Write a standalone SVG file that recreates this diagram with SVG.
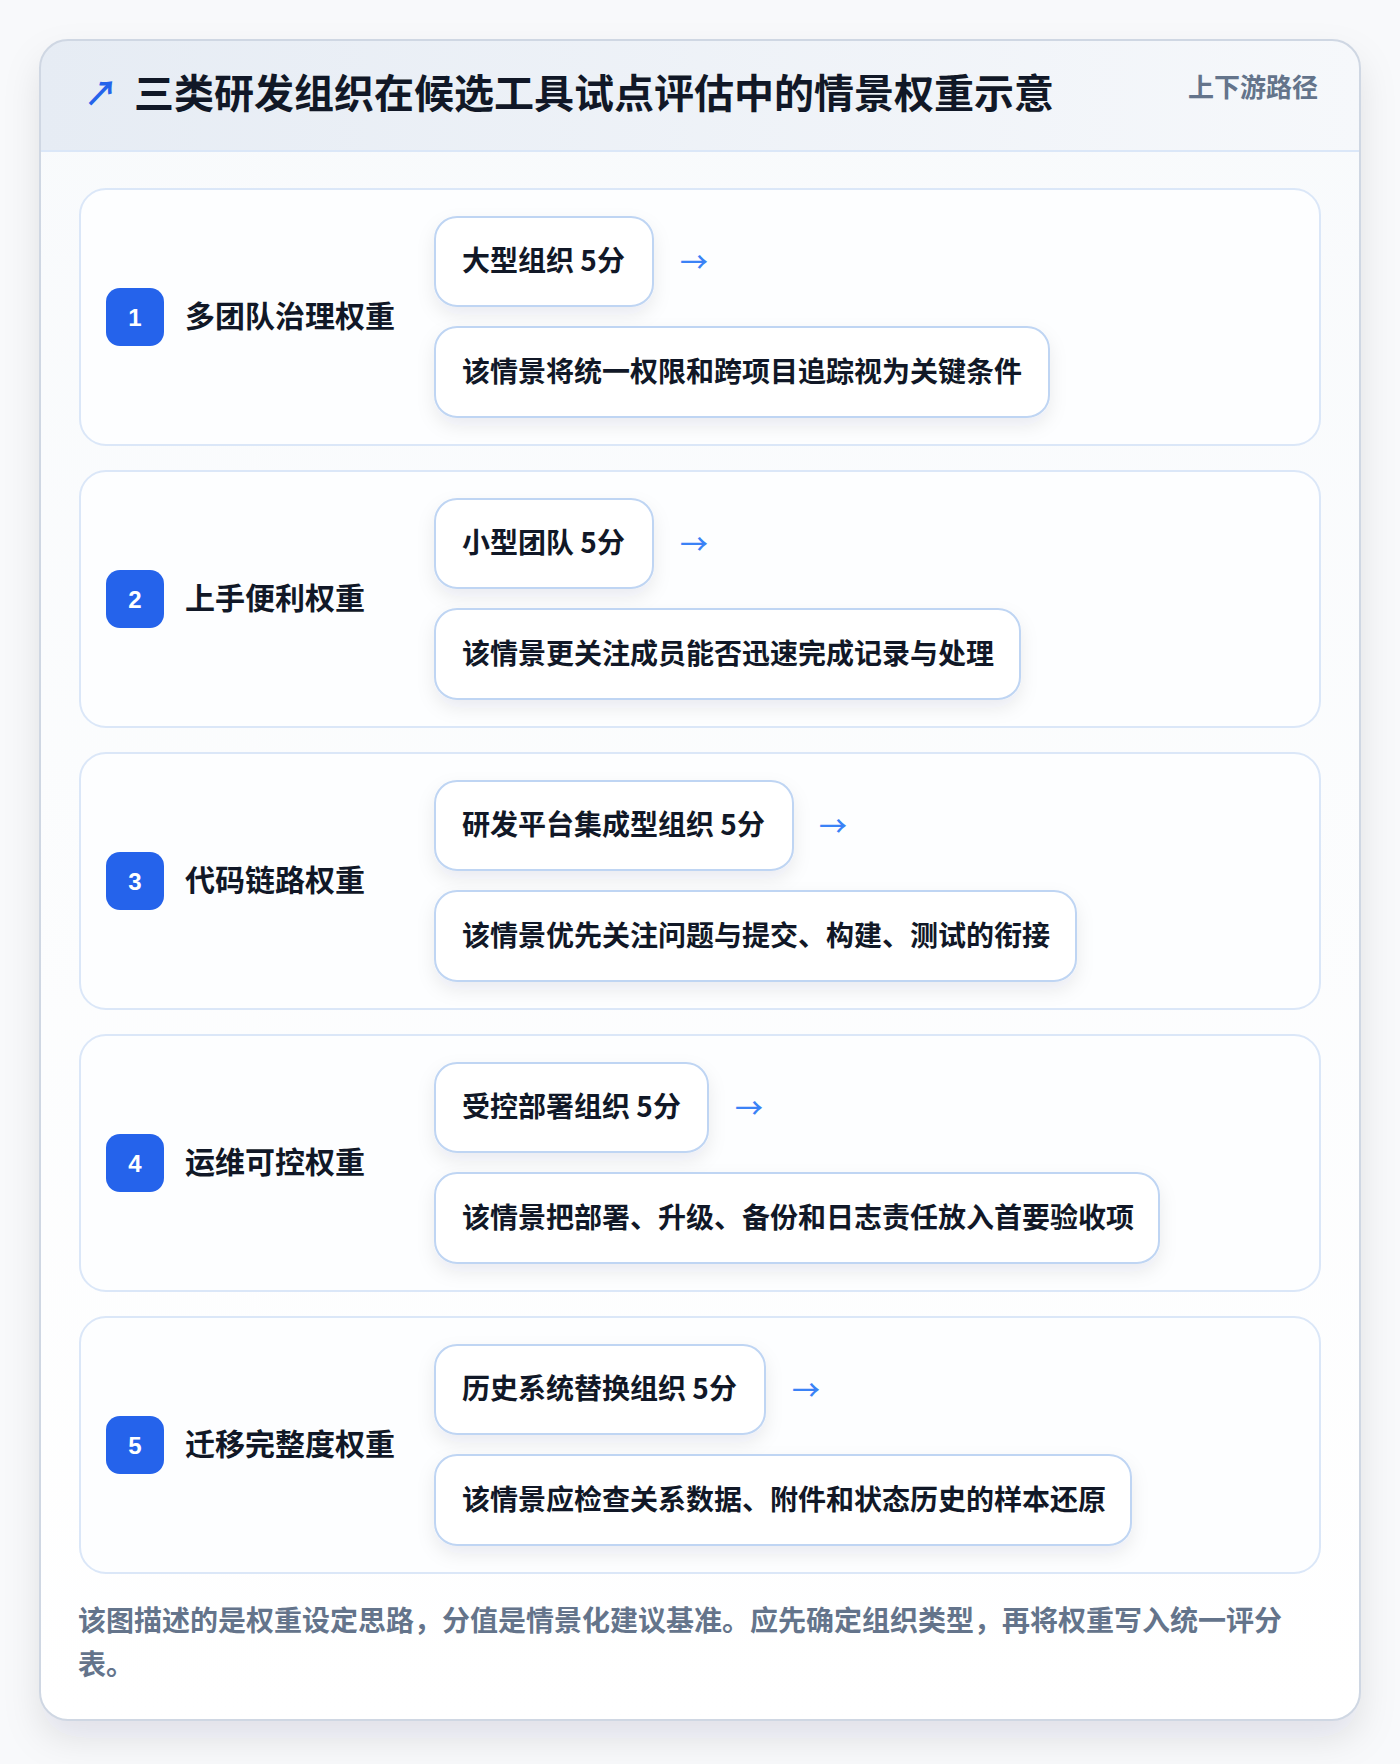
<svg xmlns="http://www.w3.org/2000/svg" width="1400" height="1764" viewBox="0 0 1400 1764">
<defs>
<linearGradient id="hdr" x1="0" y1="0" x2="1" y2="0">
<stop offset="0" stop-color="#e6ecf4"/>
<stop offset="1" stop-color="#f6f8fb"/>
</linearGradient>
<linearGradient id="body" x1="0" y1="0" x2="0" y2="1">
<stop offset="0" stop-color="#f8fafc"/>
<stop offset="1" stop-color="#ffffff"/>
</linearGradient>
<filter id="cardShadow" x="-10%" y="-10%" width="120%" height="120%">
<feDropShadow dx="0" dy="18" stdDeviation="18" flood-color="#0f172a" flood-opacity="0.10"/>
</filter>
<filter id="pillShadow" x="-10%" y="-30%" width="120%" height="170%">
<feDropShadow dx="0" dy="8" stdDeviation="9" flood-color="#1e293b" flood-opacity="0.08"/>
</filter>
<clipPath id="cardClip"><rect x="40" y="40" width="1320" height="1680" rx="28"/></clipPath>
</defs>
<style>
text{font-family:"Noto Sans CJK SC","Noto Sans",sans-serif;}
.title{font-size:40px;font-weight:700;fill:#111827;}
.sub{font-size:26px;font-weight:600;fill:#64748b;}
.row{fill:#fdfeff;stroke:#dbe7f8;stroke-width:2;}
.badge{fill:#2563eb;}
.num{font-family:"Liberation Sans","Noto Sans",sans-serif;font-size:24px;font-weight:700;fill:#ffffff;text-anchor:middle;}
.lbl{font-size:30px;font-weight:700;fill:#111827;}
.pill{fill:#ffffff;stroke:#bfd5f3;stroke-width:2;filter:url(#pillShadow);}
.ptxt{font-size:28px;font-weight:700;fill:#111827;}
.arr{font-size:28px;font-weight:500;fill:#3b82f6;}
.foot{font-size:28px;font-weight:600;fill:#64748b;}
</style>
<rect x="0" y="0" width="1400" height="1764" fill="#f8f9fb"/>
<g id="card">
<rect x="40" y="40" width="1320" height="1680" rx="28" fill="url(#body)" filter="url(#cardShadow)"/>
<g clip-path="url(#cardClip)">
<rect x="40" y="40" width="1320" height="111" fill="url(#hdr)"/>
<line x1="40" y1="151" x2="1360" y2="151" stroke="#dbe7f8" stroke-width="2"/>
</g>
<rect x="40" y="40" width="1320" height="1680" rx="28" fill="none" stroke="#cfd7e3" stroke-width="2"/>
</g>
<g id="header">
<text x="84" y="106" font-size="34" font-weight="700" fill="#2563eb">↗</text>
<text class="title" x="134" y="108">三类研发组织在候选工具试点评估中的情景权重示意</text>
<text class="sub" x="1318" y="97" text-anchor="end">上下游路径</text>
</g>
<g id="row1">
<rect class="row" x="80" y="189" width="1240" height="256" rx="26"/>
<rect class="badge" x="106" y="288" width="58" height="58" rx="14"/>
<text class="num" x="135" y="326">1</text>
<text class="lbl" x="185" y="327">多团队治理权重</text>
<rect class="pill" x="435" y="217" width="218" height="89" rx="22"/>
<text class="ptxt" x="462" y="271">大型组织 5分</text>
<text class="arr" x="680" y="273">→</text>
<rect class="pill" x="435" y="327" width="614" height="90" rx="22"/>
<text class="ptxt" x="462" y="382">该情景将统一权限和跨项目追踪视为关键条件</text>
</g>
<g id="row2">
<rect class="row" x="80" y="471" width="1240" height="256" rx="26"/>
<rect class="badge" x="106" y="570" width="58" height="58" rx="14"/>
<text class="num" x="135" y="608">2</text>
<text class="lbl" x="185" y="609">上手便利权重</text>
<rect class="pill" x="435" y="499" width="218" height="89" rx="22"/>
<text class="ptxt" x="462" y="553">小型团队 5分</text>
<text class="arr" x="680" y="555">→</text>
<rect class="pill" x="435" y="609" width="585" height="90" rx="22"/>
<text class="ptxt" x="462" y="664">该情景更关注成员能否迅速完成记录与处理</text>
</g>
<g id="row3">
<rect class="row" x="80" y="753" width="1240" height="256" rx="26"/>
<rect class="badge" x="106" y="852" width="58" height="58" rx="14"/>
<text class="num" x="135" y="890">3</text>
<text class="lbl" x="185" y="891">代码链路权重</text>
<rect class="pill" x="435" y="781" width="358" height="89" rx="22"/>
<text class="ptxt" x="462" y="835">研发平台集成型组织 5分</text>
<text class="arr" x="819" y="837">→</text>
<rect class="pill" x="435" y="891" width="641" height="90" rx="22"/>
<text class="ptxt" x="462" y="946">该情景优先关注问题与提交、构建、测试的衔接</text>
</g>
<g id="row4">
<rect class="row" x="80" y="1035" width="1240" height="256" rx="26"/>
<rect class="badge" x="106" y="1134" width="58" height="58" rx="14"/>
<text class="num" x="135" y="1172">4</text>
<text class="lbl" x="185" y="1173">运维可控权重</text>
<rect class="pill" x="435" y="1063" width="273" height="89" rx="22"/>
<text class="ptxt" x="462" y="1117">受控部署组织 5分</text>
<text class="arr" x="735" y="1119">→</text>
<rect class="pill" x="435" y="1173" width="724" height="90" rx="22"/>
<text class="ptxt" x="462" y="1228">该情景把部署、升级、备份和日志责任放入首要验收项</text>
</g>
<g id="row5">
<rect class="row" x="80" y="1317" width="1240" height="256" rx="26"/>
<rect class="badge" x="106" y="1416" width="58" height="58" rx="14"/>
<text class="num" x="135" y="1454">5</text>
<text class="lbl" x="185" y="1455">迁移完整度权重</text>
<rect class="pill" x="435" y="1345" width="330" height="89" rx="22"/>
<text class="ptxt" x="462" y="1399">历史系统替换组织 5分</text>
<text class="arr" x="792" y="1401">→</text>
<rect class="pill" x="435" y="1455" width="696" height="90" rx="22"/>
<text class="ptxt" x="462" y="1510">该情景应检查关系数据、附件和状态历史的样本还原</text>
</g>
<g id="connectors"/>
<g id="footer">
<text class="foot" x="78" y="1631">该图描述的是权重设定思路，分值是情景化建议基准。应先确定组织类型，再将权重写入统一评分</text>
<text class="foot" x="78" y="1675">表。</text>
</g>
</svg>
